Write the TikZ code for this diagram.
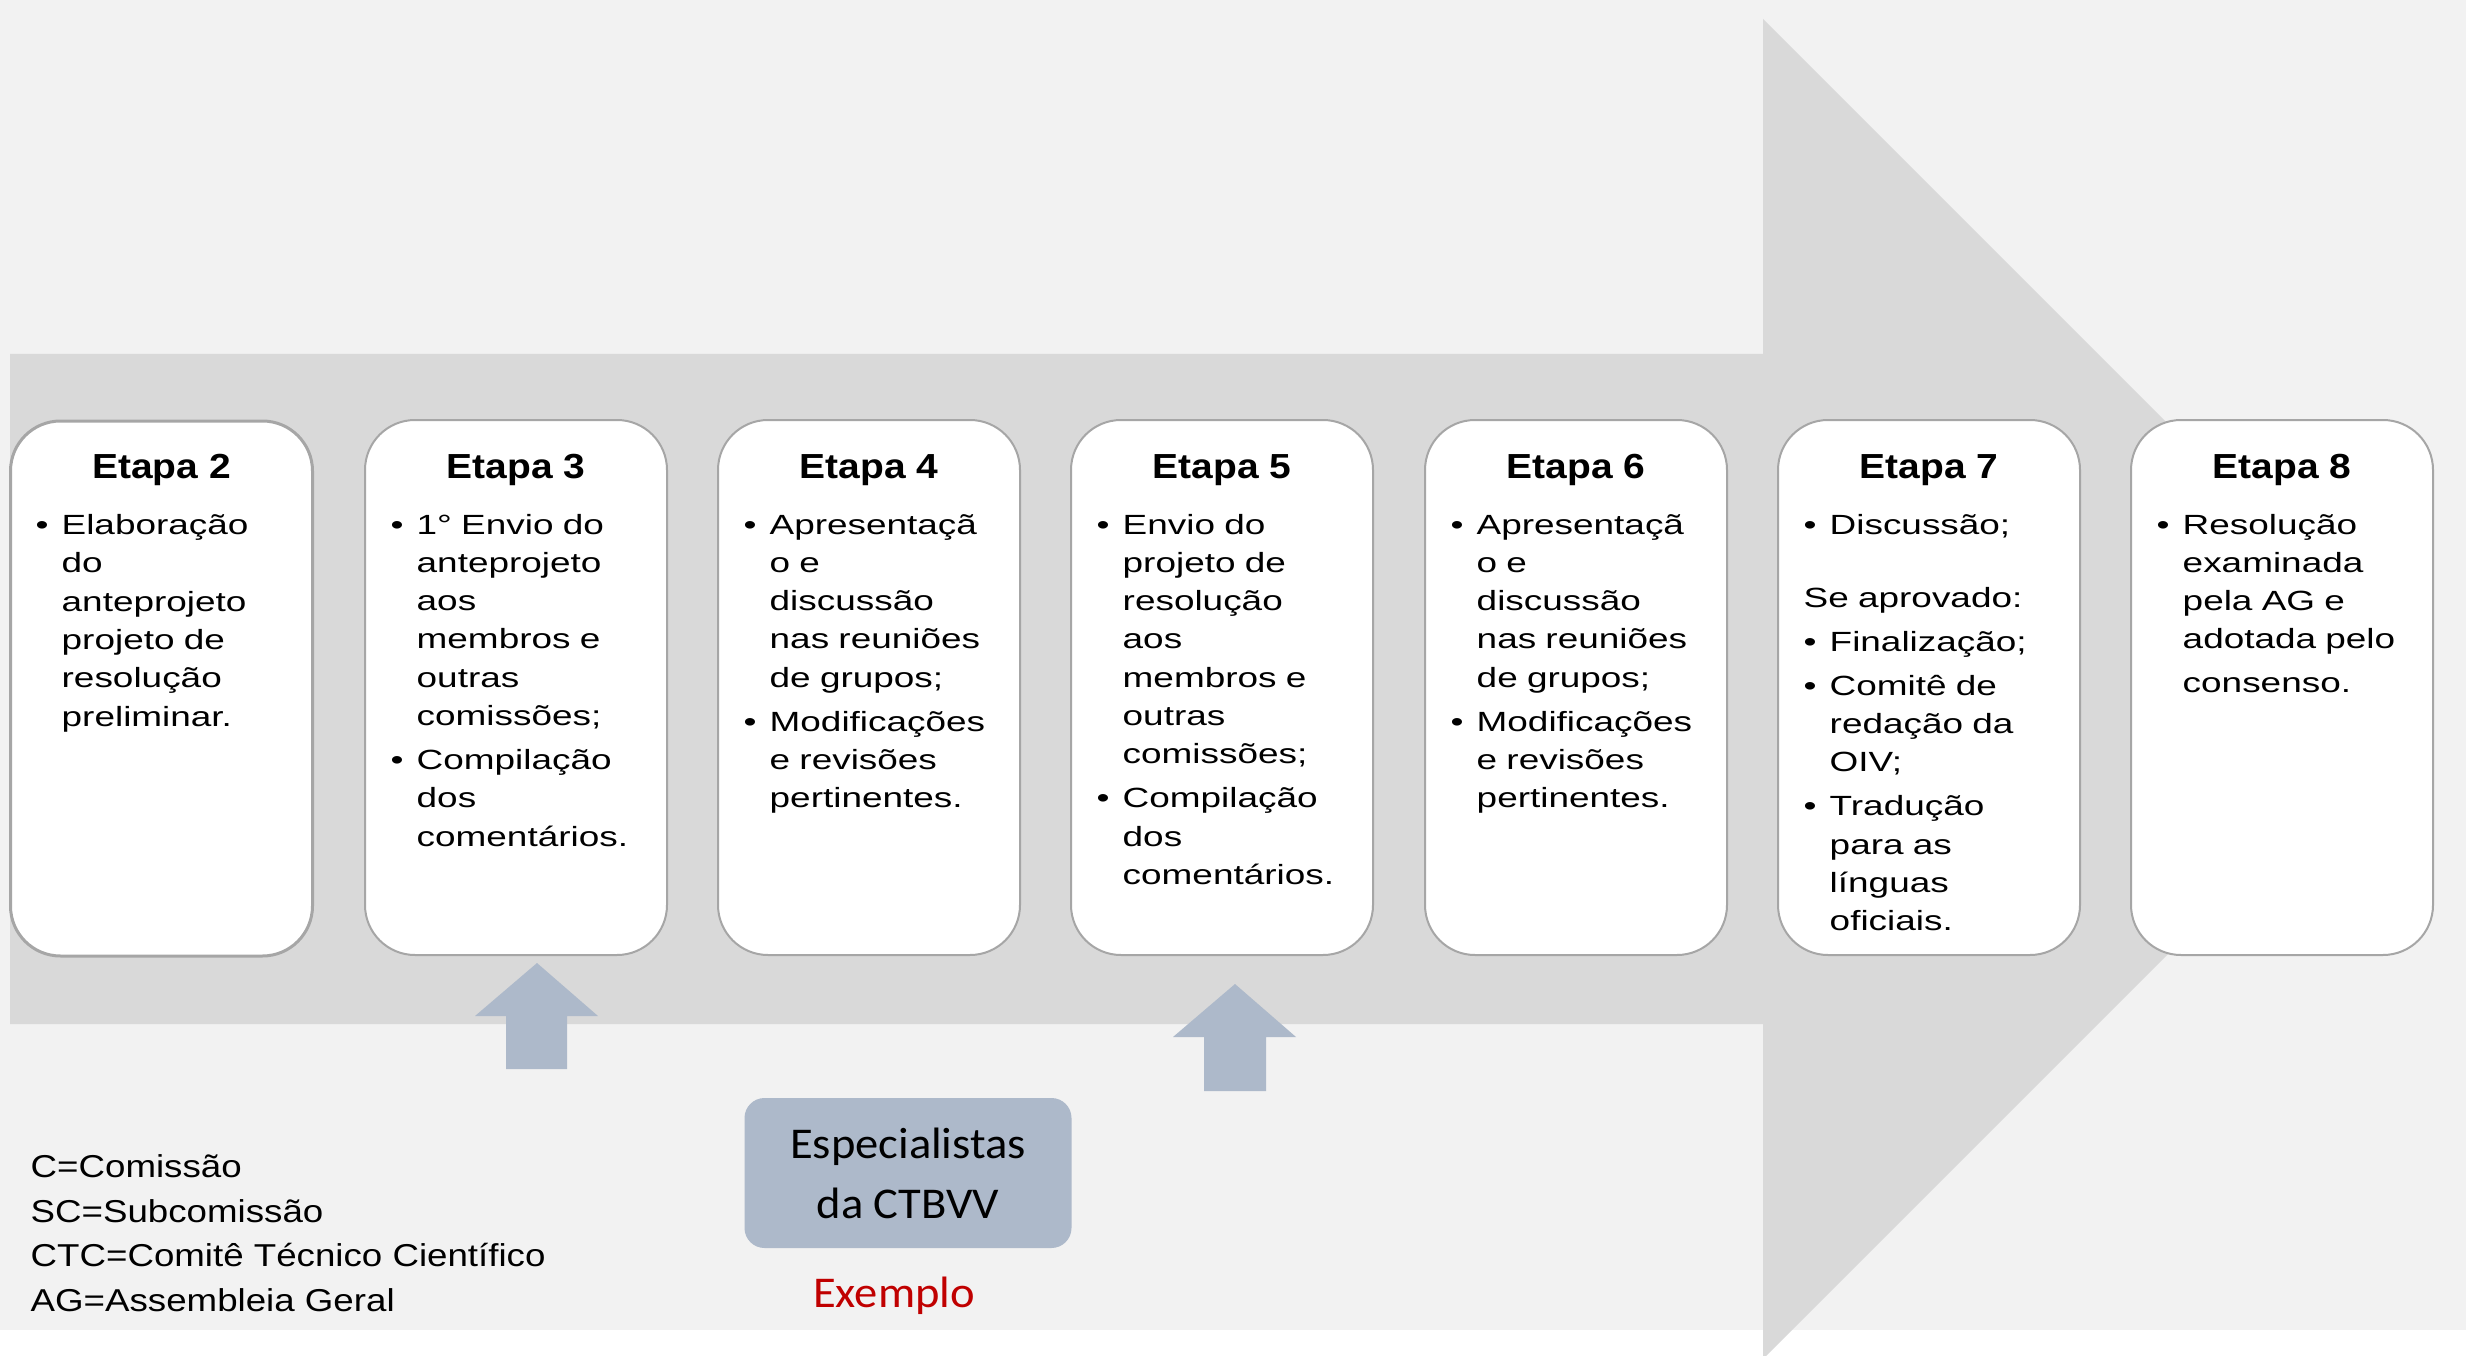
\documentclass[tikz,border=0pt]{standalone}
\usepackage{fontspec}
\setmainfont{Liberation Sans}
\newfontfamily\ettitle[FakeStretch=1.12]{Liberation Sans}
\newfontfamily\etbody[FakeStretch=1.33]{Liberation Sans}
\newfontfamily\etlegend[FakeStretch=1.16]{Liberation Sans}
\newfontfamily\etcal[FakeStretch=1.06]{Carlito}

\definecolor{fundo}{HTML}{F2F2F2}
\definecolor{seta}{HTML}{D9D9D9}
\definecolor{borda}{HTML}{A6A6A6}
\definecolor{azul}{HTML}{ADB9CA}
\definecolor{vermelho}{HTML}{C00000}

\newcommand{\bul}{\hangindent=2.6mm\hangafter=1\makebox[2.6mm][l]{\textbullet}}
\newcommand{\nl}{\newline}

\tikzset{
  etapa/.style={draw=borda, fill=white, line width=0.2mm, rounded corners=5mm,
    minimum width=30.2mm, minimum height=53.5mm, inner sep=0pt},
  titulo/.style={anchor=base, inner sep=0pt, font=\ettitle\bfseries\fontsize{9.9}{12}\selectfont},
  texto/.style={anchor=base west, inner sep=0pt, text width=29mm, align=left,
    font=\etbody\fontsize{7.9}{10.9}\selectfont,
    execute at begin node={\setlength{\baselineskip}{10.9pt}\setlength{\parskip}{1.6pt}}},
  legenda/.style={anchor=base west, inner sep=0pt, font=\etlegend\fontsize{9}{11}\selectfont},
  especialista/.style={fill=azul, rounded corners=2mm, minimum width=32.7mm, minimum height=15mm,
    inner sep=0pt, align=center, font=\etcal\fontsize{12.5}{17.1}\selectfont},
}

\begin{document}
\begin{tikzpicture}[x=0.1mm, y=-0.1mm, line join=round]
        \useasboundingbox (0,0) rectangle (2466,1356);
        \fill[white] (0,0) rectangle (2466,1356);
        \fill[fundo] (0,0) rectangle (2466,1330);

        % big process arrow
        \fill[seta] (10,354) -- (1763,354) -- (1763,19) -- (2433,689) -- (1763,1359)
                    -- (1763,1024) -- (10,1024) -- cycle;

        % steps
        \node[etapa, line width=0.3mm] (e2) at (161.5,688.5) {};
        \node[etapa] (e3) at (516,687.5) {};
        \node[etapa] (e4) at (869,687.5) {};
        \node[etapa] (e5) at (1222,687.5) {};
        \node[etapa] (e6) at (1576,687.5) {};
        \node[etapa] (e7) at (1929,687.5) {};
        \node[etapa] (e8) at (2282,687.5) {};

        \node[titulo] (t2) at ([yshift=-5.9mm]e2.north) {Etapa 2};
        \node[titulo] (t3) at ([yshift=-5.9mm]e3.north) {Etapa 3};
        \node[titulo] (t4) at ([yshift=-5.9mm]e4.north) {Etapa 4};
        \node[titulo] (t5) at ([yshift=-5.9mm]e5.north) {Etapa 5};
        \node[titulo] (t6) at ([yshift=-5.9mm]e6.north) {Etapa 6};
        \node[titulo] (t7) at ([yshift=-5.9mm]e7.north) {Etapa 7};
        \node[titulo] (t8) at ([yshift=-5.9mm]e8.north) {Etapa 8};

        \node[texto] (x2) at ([xshift=2.6mm,yshift=-11.5mm]e2.north west)
          {\bul Elaboração\nl do\nl anteprojeto\nl projeto de\nl resolução\nl preliminar.\par};
        \node[texto] (x3) at ([xshift=2.6mm,yshift=-11.5mm]e3.north west)
          {\bul 1° Envio do\nl anteprojeto\nl aos\nl membros e\nl outras\nl comissões;
           \par\bul Compilação\nl dos\nl comentários.\par};
        \node[texto] (x4) at ([xshift=2.6mm,yshift=-11.5mm]e4.north west)
          {\bul Apresentaçã\nl o e\nl discussão\nl nas reuniões\nl de grupos;
           \par\bul Modificações\nl e revisões\nl pertinentes.\par};
        \node[texto] (x5) at ([xshift=2.6mm,yshift=-11.5mm]e5.north west)
          {\bul Envio do\nl projeto de\nl resolução\nl aos\nl membros e\nl outras\nl comissões;
           \par\bul Compilação\nl dos\nl comentários.\par};
        \node[texto] (x6) at ([xshift=2.6mm,yshift=-11.5mm]e6.north west)
          {\bul Apresentaçã\nl o e\nl discussão\nl nas reuniões\nl de grupos;
           \par\bul Modificações\nl e revisões\nl pertinentes.\par};
        \node[texto] (x7) at ([xshift=2.6mm,yshift=-11.5mm]e7.north west)
          {\bul Discussão;
           \par\vspace{8.4pt}Se aprovado:
           \par\bul Finalização;
           \par\bul Comitê de\nl redação da\nl OIV;
           \par\bul Tradução\nl para as\nl línguas\nl oficiais.\par};
        \node[texto] (x8) at ([xshift=2.6mm,yshift=-11.5mm]e8.north west)
          {\bul Resolução\nl examinada\nl pela AG e\nl adotada pelo\vspace{1.5pt}\nl consenso.\par};

        % experts
        \fill[azul] (506,1069) -- (506,1016) -- (475,1016) -- (537,963) -- (598,1016)
                    -- (567,1016) -- (567,1069) -- cycle;
        \fill[azul] (1204,1091) -- (1204,1037) -- (1173,1037) -- (1235,984) -- (1296,1037)
                    -- (1266,1037) -- (1266,1091) -- cycle;
        \node[especialista] (esp) at (908,1173) {Especialistas\\da CTBVV};
        \node[anchor=base, inner sep=0pt, text=vermelho, font=\etcal\fontsize{12.5}{15}\selectfont]
          (exemplo) at (894,1307) {Exemplo};

        % legend
        \node[legenda] (l1) at (30,1177) {C=Comissão};
        \node[legenda] (l2) at (30,1222) {SC=Subcomissão};
        \node[legenda] (l3) at (30,1266) {CTC=Comitê Técnico Científico};
        \node[legenda] (l4) at (30,1311) {AG=Assembleia Geral};
\end{tikzpicture}
\end{document}
